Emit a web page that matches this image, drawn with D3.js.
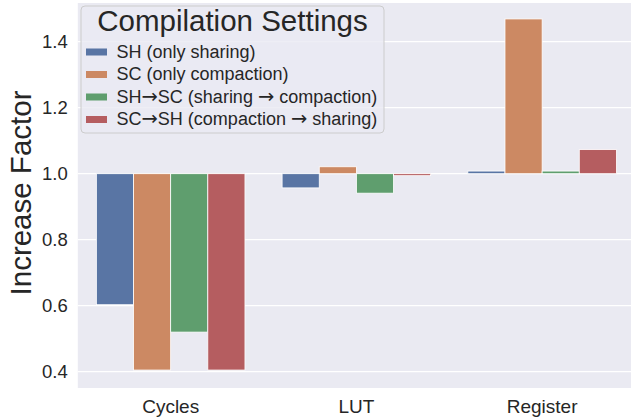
<!DOCTYPE html>
<html><head><meta charset="utf-8">
<script src="https://cdn.jsdelivr.net/npm/d3@7"></script>
<style>html,body{margin:0;padding:0;background:#fff;overflow:hidden}</style>
</head><body>
<svg id="c" width="631" height="419"></svg>
<script>
const categories = ["Cycles", "LUT", "Register"];
const seriesNames = ["SH (only sharing)", "SC (only compaction)", "SH\u2192SC (sharing \u2192 compaction)", "SC\u2192SH (compaction \u2192 sharing)"];
const SH = [0.603, 0.957, 1.008];
const SC = [0.405, 1.021, 1.469];
const SH_SC = [0.520, 0.941, 1.008];
const SC_SH = [0.405, 0.994, 1.073];
const yTicks = [0.4, 0.6, 0.8, 1.0, 1.2, 1.4];
const colors = ["#5975a4", "#cc8963", "#5f9e6e", "#b55d60"];
const baseline = 1.0;

const series = [SH, SC, SH_SC, SC_SH];
const svg = d3.select("#c");
const font = "'Liberation Sans', Arial, sans-serif";
const textCol = "#262626";

const L = 77.8, R = 635, T = 3, B = 388;
const y = d3.scaleLinear().domain([1 - (B - 173.7) / 330, 1 + (173.7 - T) / 330]).range([B, T]);
const x = d3.scaleBand().domain(categories).range([L, R]).paddingInner(0).paddingOuter(0);
const xs = d3.scaleBand().domain(d3.range(series.length)).range([0, x.bandwidth() * 0.8]);

svg.append("rect").attr("x", L).attr("y", T).attr("width", R - L).attr("height", B - T).attr("fill", "#eaeaf2");

// grid
svg.append("g").selectAll("line").data(yTicks).join("line")
  .attr("x1", L).attr("x2", R).attr("y1", d => y(d)).attr("y2", d => y(d))
  .attr("stroke", "#fff").attr("stroke-width", 1.25);

// bars
const rows = [];
series.forEach((s, si) => s.forEach((v, ci) => rows.push({si, ci, v})));
svg.append("g").selectAll("rect").data(rows).join("rect")
  .attr("x", d => x(categories[d.ci]) + x.bandwidth() * 0.1 + xs(d.si))
  .attr("width", xs.bandwidth())
  .attr("y", d => y(Math.max(d.v, baseline)))
  .attr("height", d => Math.abs(y(d.v) - y(baseline)))
  .attr("fill", d => colors[d.si])
  .attr("stroke", "#fff").attr("stroke-width", 0.8);

// y axis
const yAxis = d3.axisLeft(y).tickValues(yTicks).tickFormat(d3.format(".1f")).tickSize(0).tickPadding(10);
const gy = svg.append("g").attr("transform", `translate(${L},0)`).call(yAxis);
gy.select(".domain").remove();
gy.selectAll("text").attr("font-family", font).attr("font-size", 18.5).attr("fill", textCol);

// x axis
const xAxis = d3.axisBottom(x).tickSize(0).tickPadding(10);
const gx = svg.append("g").attr("transform", `translate(0,${B})`).call(xAxis);
gx.select(".domain").remove();
gx.selectAll("text").attr("font-family", font).attr("font-size", 19).attr("fill", textCol).attr("dy", "0.78em");

// y label
svg.append("text").attr("transform", "translate(31,193) rotate(-90)")
  .attr("text-anchor", "middle").attr("font-family", font).attr("font-size", 29.5).attr("fill", textCol)
  .text("Increase Factor");

// legend
const lg = svg.append("g");
lg.append("rect").attr("x", 81).attr("y", 6).attr("width", 303).attr("height", 127).attr("rx", 4)
  .attr("fill", "#eaeaf2").attr("fill-opacity", 0.8).attr("stroke", "#cccccc").attr("stroke-width", 1);
lg.append("text").attr("x", 232.5).attr("y", 31).attr("text-anchor", "middle")
  .attr("font-family", font).attr("font-size", 29.5).attr("fill", textCol).text("Compilation Settings");
seriesNames.forEach((n, i) => {
  const by = 57.5 + i * 22.5;
  lg.append("rect").attr("x", 86).attr("y", by - 9).attr("width", 21).attr("height", 7).attr("fill", colors[i]);
  const t = lg.append("text").attr("x", 116.5).attr("y", by).attr("font-family", font).attr("font-size", 18)
    .attr("fill", textCol);
  n.split(/(\u2192)/).forEach(part => {
    if (!part) return;
    const ts = t.append("tspan").text(part);
    if (part === "\u2192") ts.attr("font-family", "'DejaVu Sans', sans-serif").attr("font-size", 19.5);
  });
});
</script>
</body></html>
